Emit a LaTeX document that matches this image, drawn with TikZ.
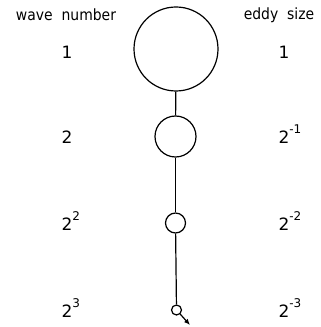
\documentclass[tikz,border=0pt]{standalone}
\usepackage{fontspec}
\setmainfont{DejaVu Sans}
\newfontfamily\condfont{DejaVu Sans Condensed}
\usetikzlibrary{arrows.meta}
\newcommand{\supr}[1]{\rlap{\smash{\raisebox{0.55em}{\fontsize{12}{12}\selectfont #1}}}}
\begin{document}
\begin{tikzpicture}[x=1pt,y=1pt,
  eddy/.style={circle,draw,line width=1.2pt,inner sep=0pt},
  lbl/.style={font=\condfont\fontsize{15.5}{15.5}\selectfont,inner sep=0pt},
  num/.style={font=\fontsize{17}{17}\selectfont,inner sep=0pt},
  link/.style={line width=1.2pt}]
\useasboundingbox (0,0) rectangle (321,327);
\node[lbl] (wn) at (66,312) {wave\ \ number};
\node[lbl] (es) at (279,312) {eddy\ \ size};
\node[eddy,minimum size=84pt] (c1) at (176,278) {};
\node[eddy,minimum size=41pt] (c2) at (175.5,190.5) {};
\node[eddy,minimum size=20pt] (c3) at (175.5,104) {};
\node[eddy,minimum size=10pt] (c4) at (176.5,17) {};
\coordinate (tip) at (190,2);
\draw[link] (c1) -- (c2);
\draw[link] (c2) -- (c3);
\draw[link] (c3) -- (c4);
\draw[link,-{Latex[length=6pt,width=5pt]}] (c4) -- (tip);
\node[num] (l1) at (67,275) {1};
\node[num] (l2) at (67,190) {2};
\node[num] (l3) at (67,103) {2\supr{2}};
\node[num] (l4) at (67,16) {2\supr{3}};
\node[num] (r1) at (284,275) {1};
\node[num] (r2) at (284,190) {2\supr{-1}};
\node[num] (r3) at (284,103) {2\supr{-2}};
\node[num] (r4) at (284,16) {2\supr{-3}};
\end{tikzpicture}
\end{document}
